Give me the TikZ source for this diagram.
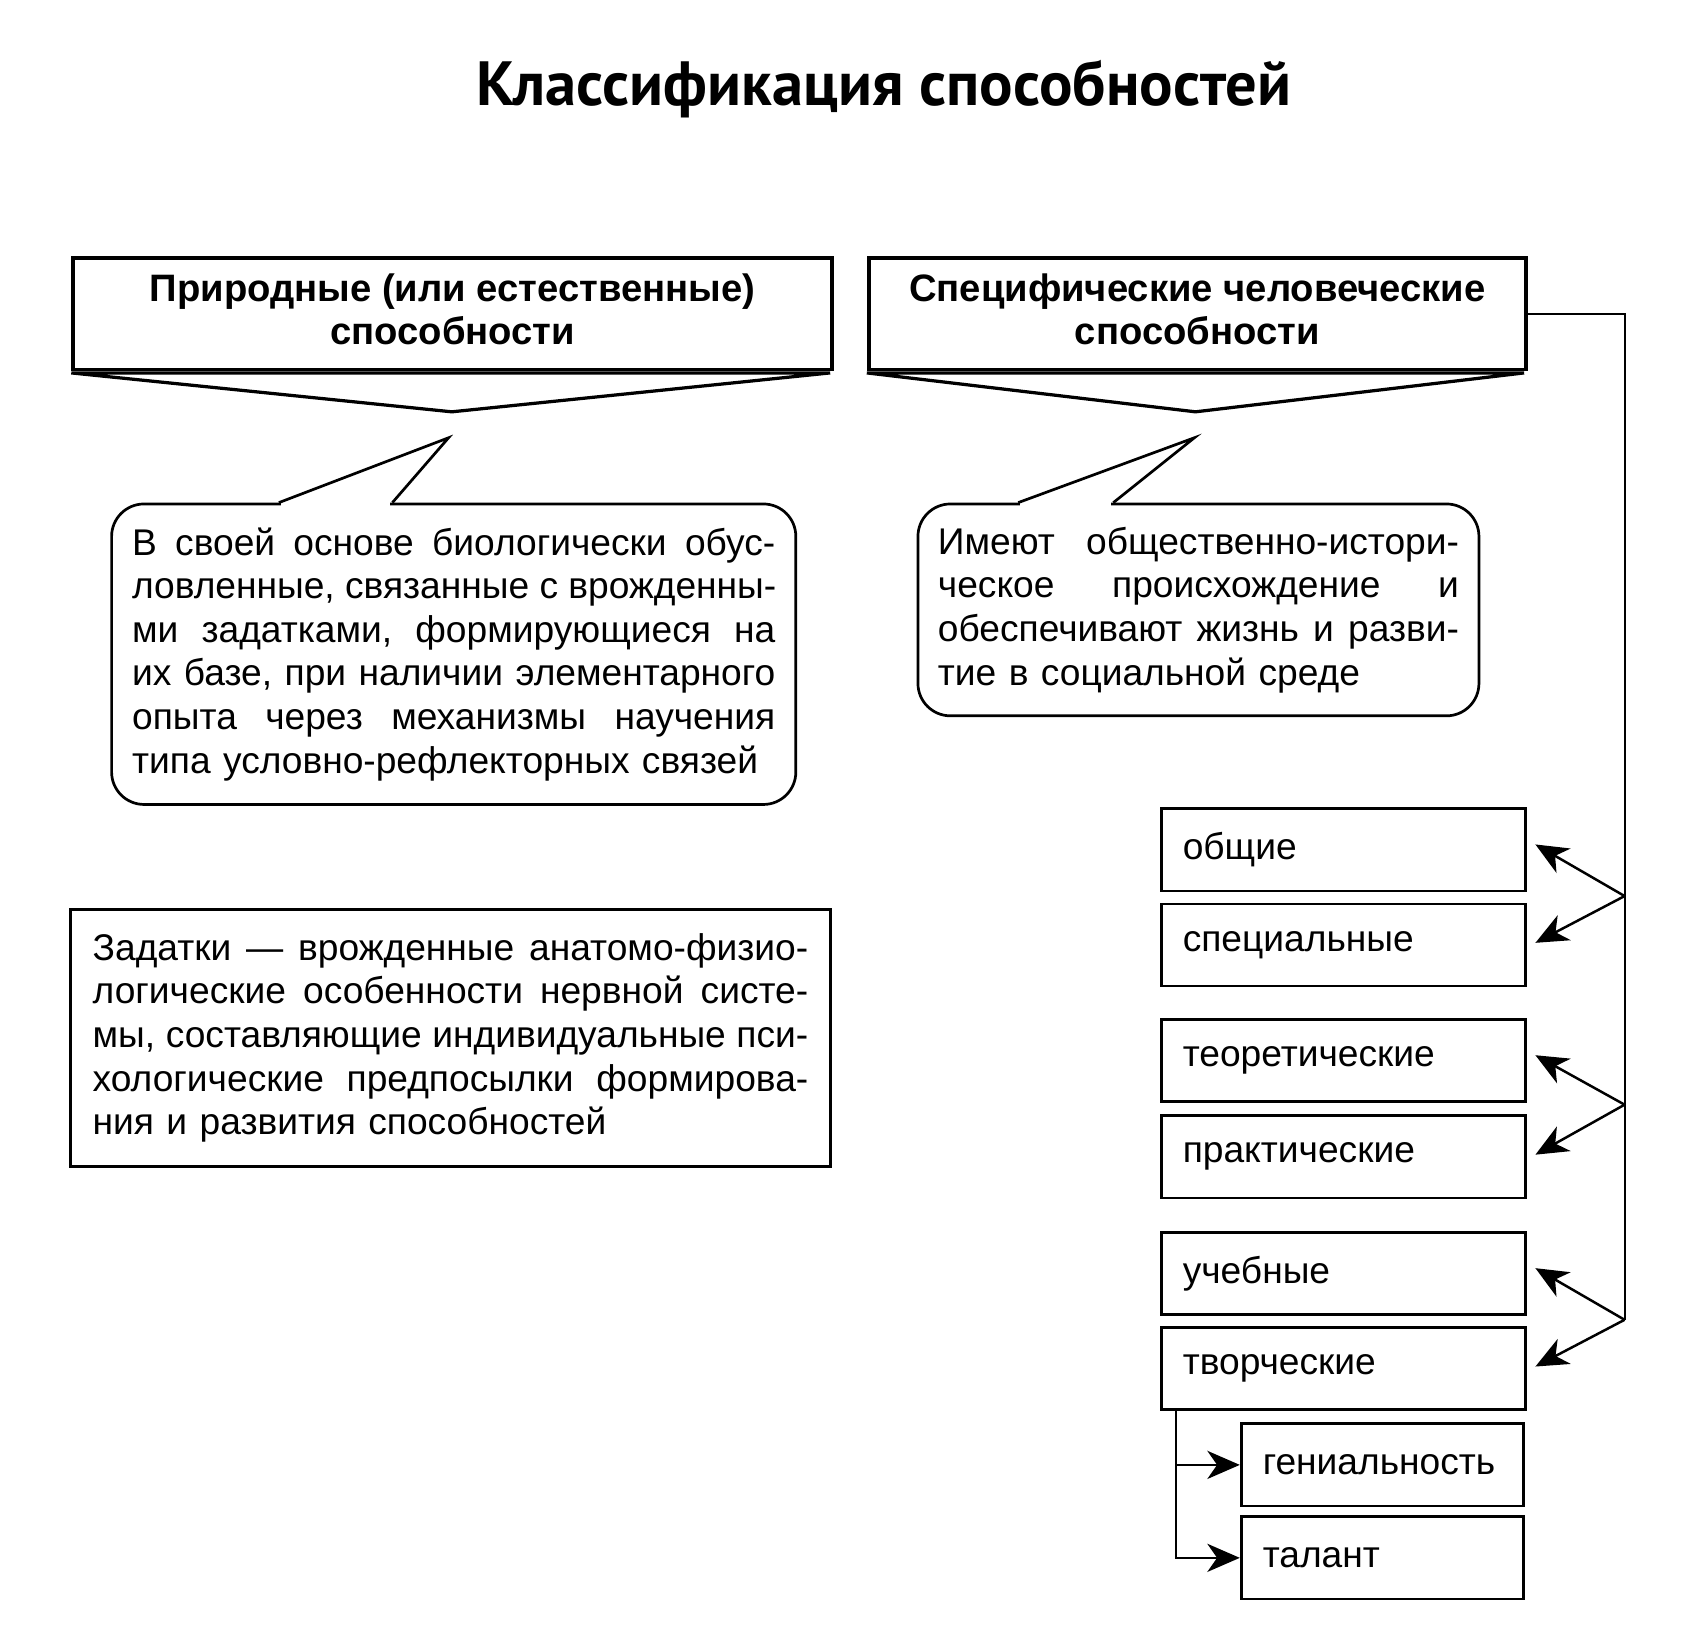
\documentclass[tikz,border=0pt]{standalone}
\usepackage{fontspec}
\setmainfont{Liberation Sans}
\newfontfamily\titlefont{PT Sans}
\usetikzlibrary{arrows.meta}
\newcommand\jl[2]{\leavevmode\hbox to #1{\frenchspacing\spaceskip=0.278em plus 1fil\relax #2}}
\newcommand\bodyfont{\fontsize{34.5}{40.5}\selectfont}
\begin{document}
\begin{tikzpicture}[x=1bp,y=-1bp,
  hdr/.style={draw, line width=3.5bp, align=center, inner sep=0pt, anchor=north west,
    font=\bfseries\fontsize{35.5}{40}\selectfont},
  chev/.style={draw, line width=3bp, line join=miter},
  bubble/.style={draw, line width=2.5bp, rounded corners=30bp, align=left, inner sep=0pt,
    anchor=north west, font=\bodyfont},
  plainbox/.style={draw, line width=2.5bp, align=left, inner sep=0pt, anchor=north west,
    font=\bodyfont},
  cat/.style={draw, line width=2.5bp, minimum height=76bp, align=left, inner sep=0pt,
    anchor=north west, font=\bodyfont},
  tail/.style={line width=2.5bp, line join=miter},
  conn/.style={line width=2bp},
  arr/.style={line width=2.3bp, -{Stealth[length=30bp, width=26bp, inset=9bp]}}]

\fill[white] (0,0) rectangle (1570,1527);
\useasboundingbox (0,0) rectangle (1570,1527);

% title
\node[font=\titlefont\bfseries\fontsize{58}{64}\selectfont] (title) at (818,82) {Классификация способностей};

% headers
\node[hdr, minimum width=702bp, minimum height=103bp] (nat) at (66,237)
  {Природные (или естественные)\\способности\rule[-9bp]{0pt}{0pt}};
\node[hdr, minimum width=608bp, minimum height=103bp] (spec) at (802,237)
  {Специфические человеческие\\способности\rule[-9bp]{0pt}{0pt}};

% chevrons
\coordinate (natL) at (66,345);
\coordinate (natR) at (768,345);
\coordinate (natP) at (418,381);
\draw[chev] (natL) -- (natR) -- (natP) -- cycle;
\coordinate (specL) at (802,345);
\coordinate (specR) at (1410,345);
\coordinate (specP) at (1106,381);
\draw[chev] (specL) -- (specR) -- (specP) -- cycle;

% left bubble
\node[bubble, minimum width=633bp, minimum height=278bp, text width=595bp] (b1) at (102,465)
  {\jl{595bp}{В своей основе биологически обус-}\\
   \jl{595bp}{ловленные, связанные с врожденны-}\\
   \jl{595bp}{ми задатками, формирующиеся на}\\
   \jl{595bp}{их базе, при наличии элементарного}\\
   \jl{595bp}{опыта через механизмы научения}\\
   типа условно-рефлекторных связей};
\fill[white] (260,461) rectangle (361,469);
\coordinate (t1a) at (258,465);
\coordinate (t1p) at (415,405);
\coordinate (t1b) at (363,465);
\draw[tail] (t1a) -- (t1p) -- (t1b);

% right bubble
\node[bubble, minimum width=519bp, minimum height=196bp, text width=482bp] (b2) at (848,465)
  {\jl{482bp}{Имеют общественно-истори-}\\
   \jl{482bp}{ческое происхождение и}\\
   \jl{482bp}{обеспечивают жизнь и разви-}\\
   тие в социальной среде};
\fill[white] (944,461) rectangle (1028,469);
\coordinate (t2a) at (942,465);
\coordinate (t2p) at (1105,405);
\coordinate (t2b) at (1030,465);
\draw[tail] (t2a) -- (t2p) -- (t2b);

% zadatki
\node[plainbox, minimum width=703bp, minimum height=238bp, text width=662bp] (zad) at (64,840)
  {\jl{662bp}{Задатки — врожденные анатомо-физио-}\\
   \jl{662bp}{логические особенности нервной систе-}\\
   \jl{662bp}{мы, составляющие индивидуальные пси-}\\
   \jl{662bp}{хологические предпосылки формирова-}\\
   ния и развития способностей};

% categories
\node[cat, minimum width=337bp, text width=297bp] (obsh) at (1073,747) {общие};
\node[cat, minimum width=337bp, text width=297bp] (spc) at (1073,835) {специальные};
\node[cat, minimum width=337bp, text width=297bp] (teor) at (1073,942) {теоретические};
\node[cat, minimum width=337bp, text width=297bp] (prakt) at (1073,1031) {практические};
\node[cat, minimum width=337bp, text width=297bp] (ucheb) at (1073,1139) {учебные};
\node[cat, minimum width=337bp, text width=297bp] (tvor) at (1073,1227) {творческие};
\node[cat, minimum width=261bp, text width=221bp] (gen) at (1147,1316) {гениальность};
\node[cat, minimum width=261bp, text width=221bp] (tal) at (1147,1402) {талант};

% right connector
\coordinate (j1) at (1503,829);
\coordinate (j2) at (1503,1022);
\coordinate (j3) at (1503,1221);
\draw[conn] (spec.east) -| (j3);
\draw[arr] (j1) -- ([xshift=8bp,yshift=5bp]obsh.east);
\draw[arr] (j1) -- ([xshift=8bp,yshift=2bp]spc.east);
\draw[arr] (j2) -- ([xshift=8bp,yshift=5bp]teor.east);
\draw[arr] (j2) -- ([xshift=8bp,yshift=2bp]prakt.east);
\draw[arr] (j3) -- ([xshift=8bp,yshift=5bp]ucheb.east);
\draw[arr] (j3) -- ([xshift=8bp,yshift=2bp]tvor.east);

% creative sub-branch
\coordinate (tv) at ([xshift=15bp]tvor.south west);
\draw[arr] (tv) |- (gen.west);
\draw[arr] (tv) |- (tal.west);
\end{tikzpicture}
\end{document}
